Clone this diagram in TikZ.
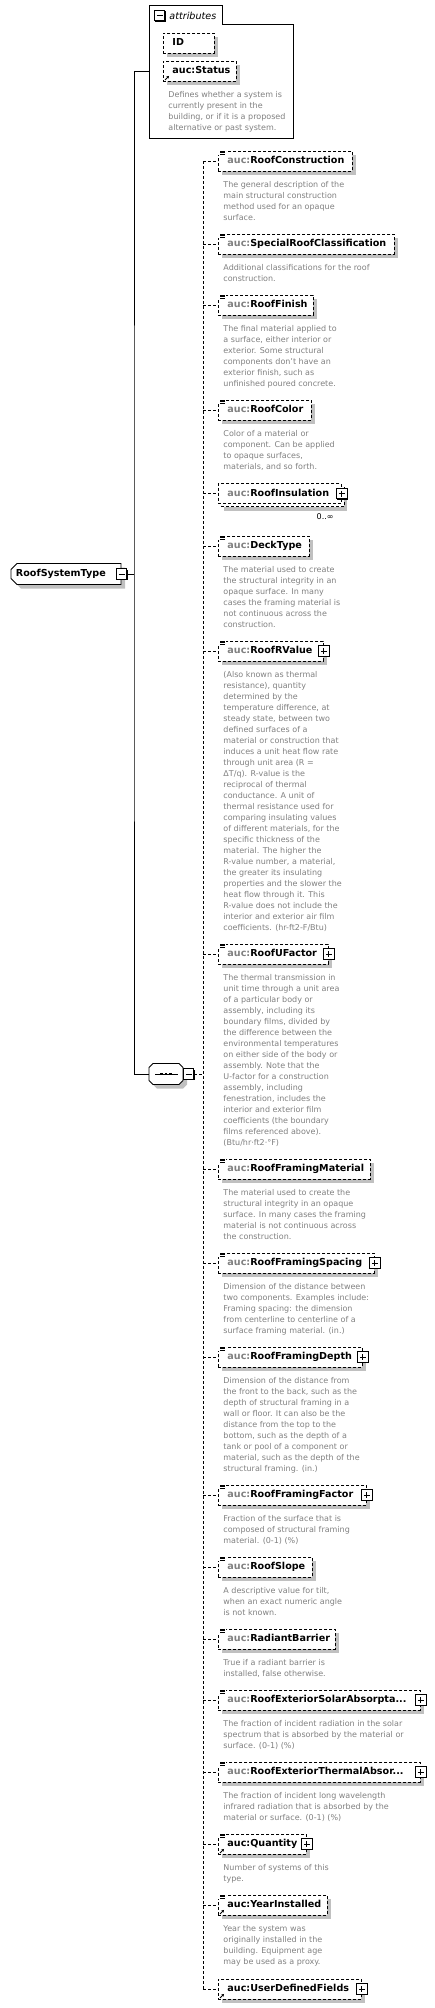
\documentclass[tikz,border=0pt]{standalone}
\usepackage{fontspec}
\setmainfont{DejaVu Sans}
\usetikzlibrary{shapes.misc,shadows,arrows.meta}
\definecolor{pfx}{RGB}{128,128,128}
\definecolor{dsc}{RGB}{128,128,128}
\definecolor{shadowgray}{RGB}{192,192,192}
\newcommand\elfont{\fontsize{9.6}{11}\selectfont\bfseries}
\newcommand\dsfont{\fontsize{8}{11}\selectfont}

\begin{document}
\begin{tikzpicture}[x=1pt,y=-1pt,line width=0.9pt,
		dsh/.style={dash pattern=on 3pt off 2pt},
		elbox/.style={draw,dsh,fill=white,anchor=west,minimum height=20pt,inner xsep=7pt,inner ysep=0pt,text height=7pt,text depth=2pt,font=\elfont},
		elem/.style={elbox,drop shadow={shadow xshift=4pt,shadow yshift=-4pt,fill=shadowgray,opacity=1,draw=none}},
		multi/.style={elbox,drop shadow={shadow xshift=6pt,shadow yshift=-7pt,fill=shadowgray,opacity=1,draw=none},copy shadow={shadow xshift=3pt,shadow yshift=-3pt,draw,dsh,fill=white,opacity=1}},
		desc/.style={anchor=north west,inner sep=0pt,align=left,font=\dsfont,text=dsc,execute at begin node=\strut},
		tog/.style={draw,solid,fill=white,minimum size=10.5pt,inner sep=0pt,drop shadow={shadow xshift=0.8pt,shadow yshift=-0.8pt,fill=black,opacity=1,draw=none}},
		root/.style={chamfered rectangle,chamfered rectangle corners={north west,south west},chamfered rectangle xsep=3pt,chamfered rectangle ysep=3pt,draw,fill=white,minimum height=21pt,inner xsep=2pt,inner ysep=0pt,font=\elfont,drop shadow={shadow xshift=4pt,shadow yshift=-4pt,fill=shadowgray,opacity=1,draw=none}},
		seqn/.style={minimum width=34pt,minimum height=21pt,inner sep=0pt}]
	\useasboundingbox (0,0) rectangle (434,2008);

	\draw[fill=white] (149,138) -- (149,5) -- (222,5) -- (222,24) -- (293,24) -- (293,138) -- cycle;
	\node[tog] (am) at (159.5,15.5) {};
	\draw (am.center) +(-3,0) -- +(3,0);
	\node[anchor=west,inner sep=0pt,font=\fontsize{9.6}{11}\selectfont\itshape] (al) at (169,15.5) {attributes};
	\node[elem] (id) at (163,43) {\makebox[37pt][l]{\hspace{2pt}ID}};
	\node[elem] (st) at (163,71) {\makebox[59pt][l]{\hspace{2pt}auc:Status}};
	\node[desc] (sd) at (168,90.5) {Defines whether a system is\\currently present in the\\building, or if it is a proposed\\alternative or past system.};
	\coordinate (ab) at (149,71);

	\node[root] (r) at (66,574) {\makebox[100pt][l]{RoofSystemType}};
	\node[tog] (rm) at (121.5,574) {};
	\draw (rm.center) +(-3,0) -- +(3,0);
	\coordinate (tr) at (134,574);
	\draw (rm.east) -- (tr);

	\node[seqn] (sq) at (166,1074) {};
	\foreach \s/\c/\o in {4/shadowgray/none,0/white/black}
		\filldraw[fill=\c,draw=\o] ([shift={(\s-13,\s-10.5)}]sq.center) -- ([shift={(\s+13,\s-10.5)}]sq.center) -- ([shift={(\s+17,\s-6.5)}]sq.center) -- ([shift={(\s+17,\s+6.5)}]sq.center) -- ([shift={(\s+13,\s+10.5)}]sq.center) -- ([shift={(\s-13,\s+10.5)}]sq.center) -- ([shift={(\s-17,\s+6.5)}]sq.center) -- ([shift={(\s-17,\s-6.5)}]sq.center) -- cycle;
	\draw ([xshift=-11pt]sq.center) -- ([xshift=12pt]sq.center);
	\foreach \d in {-4.5,0,4.5}
		\fill ([xshift=\d pt]sq.center) +(-1.3,-1.3) rectangle +(1.3,1.3);
	\node[tog] (sm) at (188.5,1074) {};
	\draw (sm.center) +(-3,0) -- +(3,0);
	\draw (ab) -| (tr) |- (sq.west);

	\coordinate (sp1) at (203,161);
	\coordinate (sp2) at (203,1989);
	\draw[dsh] (sm.east) -- (sm.east -| sp1);
	\draw[dsh] (sp1) -- (sp2);

	\foreach \n/\y/\w/\pc/\nm/\ds in {
		1/161/134/pfx/RoofConstruction/{The general description of the\\main structural construction\\method used for an opaque\\surface.},
		2/244/176/pfx/SpecialRoofClassification/{Additional classifications for the roof\\construction.},
		3/305/95/pfx/RoofFinish/{The final material applied to\\a surface, either interior or\\exterior. Some structural\\components don't have an\\exterior finish, such as\\unfinished poured concrete.},
		4/410/93/pfx/RoofColor/{Color of a material or\\component. Can be applied\\to opaque surfaces,\\materials, and so forth.},
		6/546/91/pfx/DeckType/{The material used to create\\the structural integrity in an\\opaque surface. In many\\cases the framing material is\\not continuous across the\\construction.},
		7/651/105/pfx/RoofRValue/{(Also known as thermal\\resistance), quantity\\determined by the\\temperature difference, at\\steady state, between two\\defined surfaces of a\\material or construction that\\induces a unit heat flow rate\\through unit area (R =\\ΔT/q). R-value is the\\reciprocal of thermal\\conductance. A unit of\\thermal resistance used for\\comparing insulating values\\of different materials, for the\\specific thickness of the\\material. The higher the\\R-value number, a material,\\the greater its insulating\\properties and the slower the\\heat flow through it. This\\R-value does not include the\\interior and exterior air film\\coefficients. (hr-ft2-F/Btu)},
		8/954/110/pfx/RoofUFactor/{The thermal transmission in\\unit time through a unit area\\of a particular body or\\assembly, including its\\boundary films, divided by\\the difference between the\\environmental temperatures\\on either side of the body or\\assembly. Note that the\\U-factor for a construction\\assembly, including\\fenestration, includes the\\interior and exterior film\\coefficients (the boundary\\films referenced above).\\(Btu/hr·ft2·°F)},
		9/1169/152/pfx/RoofFramingMaterial/{The material used to create the\\structural integrity in an opaque\\surface. In many cases the framing\\material is not continuous across\\the construction.},
		10/1263/156/pfx/RoofFramingSpacing/{Dimension of the distance between\\two components. Examples include:\\Framing spacing: the dimension\\from centerline to centerline of a\\surface framing material. (in.)},
		11/1357/144/pfx/RoofFramingDepth/{Dimension of the distance from\\the front to the back, such as the\\depth of structural framing in a\\wall or floor. It can also be the\\distance from the top to the\\bottom, such as the depth of a\\tank or pool of a component or\\material, such as the depth of the\\structural framing. (in.)},
		12/1495/148/pfx/RoofFramingFactor/{Fraction of the surface that is\\composed of structural framing\\material. (0-1) (\%)},
		13/1567/94/pfx/RoofSlope/{A descriptive value for tilt,\\when an exact numeric angle\\is not known.},
		14/1639/117/pfx/RadiantBarrier/{True if a radiant barrier is\\installed, false otherwise.},
		15/1700/202/pfx/{RoofExteriorSolarAbsorpta...}/{The fraction of incident radiation in the solar\\spectrum that is absorbed by the material or\\surface. (0-1) (\%)},
		16/1772/202/pfx/{RoofExteriorThermalAbsor...}/{The fraction of incident long wavelength\\infrared radiation that is absorbed by the\\material or surface. (0-1) (\%)},
		17/1844/88/black/Quantity/{Number of systems of this\\type.},
		18/1905/109/black/YearInstalled/{Year the system was\\originally installed in the\\building. Equipment age\\may be used as a proxy.}}{
		\node[elem] (e\n) at (218,\y) {\makebox[\dimexpr\w pt-14pt\relax][l]{\hspace{2pt}{\color{\pc}auc:}\nm}};
		\node[desc] (d\n) at (223,\y+19.5) {\ds};
	}
	\node[multi] (e5) at (218,493.5) {\makebox[109pt][l]{\hspace{2pt}{\color{pfx}auc:}RoofInsulation}};
	\node[anchor=east,inner sep=0pt,font=\dsfont] (m5) at (334,517) {0..∞};
	\node[elem] (e19) at (218,1989) {\makebox[129pt][l]{\hspace{2pt}auc:UserDefinedFields}};

	\foreach \i in {1,...,19}
		\draw[dsh] (e\i.west -| sp1) -- (e\i.west);

	\foreach \n in {e1,e2,e3,e4,e6,e7,e8,e9,e10,e11,e12,e13,e14,e15,e16,e17,e18} {
		\fill[white] ([shift={(0,-2)}]\n.north west) rectangle ([shift={(8,4)}]\n.north west);
		\foreach \k in {0.5,2.2,3.9}
			\draw[line width=0.7pt] ([shift={(2,\k)}]\n.north west) -- ++(5,0);
	}
	\foreach \n in {st,e17,e18,e19}
		\draw[solid,-{Stealth[length=2.5pt,width=3pt]}] ([shift={(2,-1.5)}]\n.south west) -- ++(4,-4);
	\foreach \n in {e5,e7,e8,e10,e11,e12,e15,e16,e17,e19} {
		\node[tog] (p\n) at (\n.east) {};
		\draw (p\n.center) +(-3,0) -- +(3,0) +(0,-3) -- +(0,3);
	}
\end{tikzpicture}
\end{document}
